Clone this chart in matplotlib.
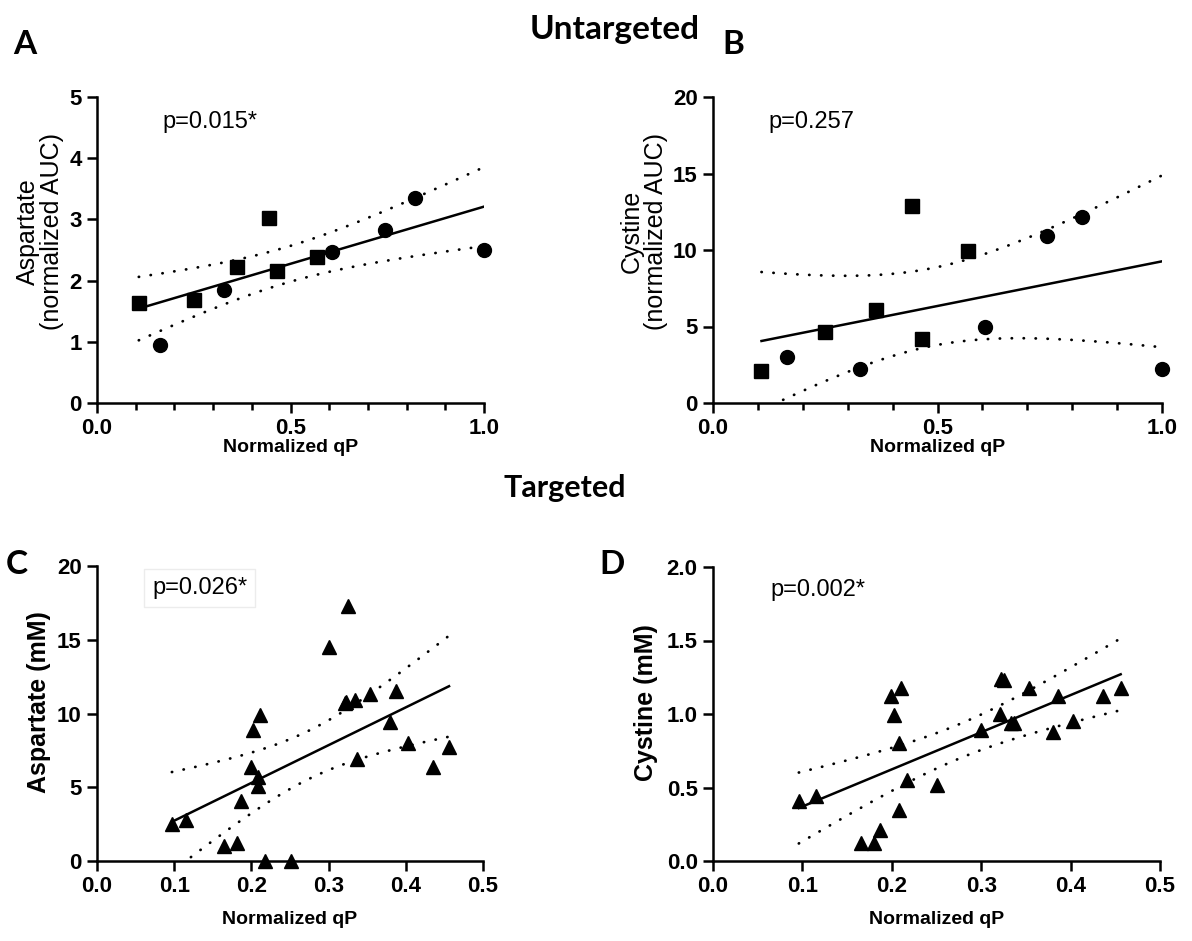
import numpy as np
import matplotlib
matplotlib.use('Agg')
import matplotlib.pyplot as plt
from matplotlib.ticker import MultipleLocator

# ---- untargeted (panels A, B): squares and circles share qP values
qp_sq = [0.108, 0.250, 0.363, 0.444, 0.465, 0.569]
qp_ci = [0.164, 0.328, 0.606, 0.743, 0.822, 1.000]
asp_sq = [1.63, 1.68, 2.23, 3.03, 2.16, 2.39]
asp_ci = [0.94, 1.84, 2.46, 2.83, 3.35, 2.50]
cys_sq = [2.07, 4.61, 6.09, 12.9, 4.17, 9.93]
cys_ci = [2.98, 2.22, 5.00, 10.91, 12.17, 2.24]

# ---- targeted (panels C, D)
qp_t = [0.097, 0.115, 0.164, 0.181, 0.187, 0.199, 0.202, 0.211, 0.209, 0.208,
        0.217, 0.251, 0.301, 0.325, 0.321, 0.323, 0.334, 0.337, 0.353, 0.380,
        0.387, 0.403, 0.435, 0.456]
asp_t = [2.5, 2.8, 1.05, 1.2, 4.1, 6.4, 8.9, 9.9, 5.7, 5.1,
         0.0, 0.0, 14.5, 17.3, 10.7, 10.8, 10.9, 6.9, 11.3, 9.4,
         11.5, 8.0, 6.4, 7.7]
qp_t2 = [0.096, 0.115, 0.165, 0.180, 0.187, 0.199, 0.202, 0.210, 0.208, 0.208,
         0.217, 0.250, 0.300, 0.321, 0.322, 0.325, 0.333, 0.337, 0.353, 0.386,
         0.380, 0.403, 0.436, 0.456]
cys_t = [0.41, 0.44, 0.12, 0.12, 0.21, 1.12, 0.99, 1.18, 0.80, 0.35,
         0.55, 0.52, 0.89, 1.00, 1.24, 1.23, 0.94, 0.94, 1.18, 1.12,
         0.88, 0.95, 1.12, 1.18]

p_texts = ['p=0.015*', 'p=0.257', 'p=0.026*', 'p=0.002*']

# two-sided 95% t values by degrees of freedom
T95 = {10: 2.228, 21: 2.080, 22: 2.074}

W, H = 1192, 941
fig = plt.figure(figsize=(W / 100, H / 100), dpi=100)

tick_font = dict(family=['Liberation Sans Narrow', 'Liberation Sans'], weight='bold', size=16)
lab_font = dict(family='Liberation Sans', size=18)
head_font = dict(family='Lato', weight='bold', size=24)


def make_ax(l, r, t, b):
    return fig.add_axes([l / W, 1 - b / H, (r - l) / W, (b - t) / H])


def fit_with_ci(ax, x, y):
    x = np.asarray(x, float)
    y = np.asarray(y, float)
    n = len(x)
    slope, icpt = np.polyfit(x, y, 1)
    resid = y - (slope * x + icpt)
    s = np.sqrt(np.sum(resid ** 2) / (n - 2))
    sxx = np.sum((x - x.mean()) ** 2)
    xs = np.linspace(x.min(), x.max(), 200)
    yh = slope * xs + icpt
    half = T95[n - 2] * s * np.sqrt(1 / n + (xs - x.mean()) ** 2 / sxx)
    ax.plot(xs, yh, color='black', lw=1.8, zorder=2)
    for yy in (yh + half, yh - half):
        ax.plot(xs, yy, color='black', lw=2.0, ls=(0, (0.1, 4.2)),
                dash_capstyle='round', zorder=2)


def style(ax, xmax, xmajor, ymax, ymajor, yfmt):
    ax.set_xlim(0, xmax)
    ax.set_ylim(0, ymax)
    ax.spines['top'].set_visible(False)
    ax.spines['right'].set_visible(False)
    for sp in ('left', 'bottom'):
        ax.spines[sp].set_linewidth(1.8)
    ax.xaxis.set_major_locator(MultipleLocator(xmajor))
    ax.xaxis.set_minor_locator(MultipleLocator(0.1))
    ax.yaxis.set_major_locator(MultipleLocator(ymajor))
    ax.tick_params(which='major', length=7, width=1.8, direction='out', pad=4)
    ax.tick_params(which='minor', length=5, width=1.8, direction='out')
    ax.tick_params(axis='y', which='minor', length=0)
    ax.set_xticks(ax.get_xticks())
    ax.set_xticklabels([f'{v:.1f}' for v in ax.get_xticks()], **tick_font)
    ax.set_yticks(ax.get_yticks())
    ax.set_yticklabels([yfmt.format(v) for v in ax.get_yticks()], **tick_font)
    ax.set_xlim(0, xmax)
    ax.set_ylim(0, ymax)
    ax.set_xlabel('Normalized qP', family='Liberation Sans', weight='bold', size=14)


# panel A
axA = make_ax(97, 484, 97, 403)
fit_with_ci(axA, qp_sq + qp_ci, asp_sq + asp_ci)
axA.plot(qp_sq, asp_sq, 's', color='black', ms=10.5, zorder=3, clip_on=False)
axA.plot(qp_ci, asp_ci, 'o', color='black', ms=10, zorder=3, clip_on=False)
style(axA, 1.0, 0.5, 5, 1, '{:.0f}')
axA.set_ylabel('Aspartate\n(normalized AUC)', linespacing=1.0, **lab_font)
axA.xaxis.labelpad = 0
axA.yaxis.set_label_coords(-0.085, 0.56)

# panel B
axB = make_ax(713, 1162, 97, 403)
fit_with_ci(axB, qp_sq + qp_ci, cys_sq + cys_ci)
axB.plot(qp_sq, cys_sq, 's', color='black', ms=10.5, zorder=3, clip_on=False)
axB.plot(qp_ci, cys_ci, 'o', color='black', ms=10, zorder=3, clip_on=False)
style(axB, 1.0, 0.5, 20, 5, '{:.0f}')
axB.set_ylabel('Cystine\n(normalized AUC)', linespacing=1.0, **lab_font)
axB.xaxis.labelpad = 0
axB.yaxis.set_label_coords(-0.1, 0.56)

# panel C
axC = make_ax(97, 483, 566, 861)
fit_with_ci(axC, qp_t, asp_t)
axC.plot(qp_t, asp_t, '^', color='black', ms=10.5, zorder=3, clip_on=False)
style(axC, 0.5, 0.1, 20, 5, '{:.0f}')
axC.set_ylabel('Aspartate (mM)', family='Liberation Sans', weight='bold', size=18)
axC.yaxis.set_label_coords(-0.12, 0.54)
axC.xaxis.labelpad = 10

# panel D
axD = make_ax(713, 1160, 567, 861)
fit_with_ci(axD, qp_t2, cys_t)
axD.plot(qp_t2, cys_t, '^', color='black', ms=10.5, zorder=3, clip_on=False)
style(axD, 0.5, 0.1, 2.0, 0.5, '{:.1f}')
axD.set_ylabel('Cystine (mM)', family='Liberation Sans', weight='bold', size=18)
axD.yaxis.set_label_coords(-0.123, 0.54)
axD.xaxis.labelpad = 10

# p values
p_font = dict(family='Liberation Sans', size=17, va='center', ha='left')
fig.text(162 / W, 1 - 122 / H, p_texts[0], **p_font)
fig.text(768 / W, 1 - 122 / H, p_texts[1], **p_font)
fig.text(152 / W, 1 - 588 / H, p_texts[2],
         bbox=dict(boxstyle='square,pad=0.35', fc='white', ec='#ececec', lw=1), **p_font)
fig.text(770 / W, 1 - 590 / H, p_texts[3], **p_font)

# headings and panel letters
fig.text(615 / W, 1 - 30 / H, 'Untargeted', ha='center', va='center', **head_font)
fig.text(565 / W, 1 - 488 / H, 'Targeted', ha='center', va='center',
         family='Lato', weight='bold', size=22)
for letter, px, py in (('A', 25, 45), ('B', 733, 45), ('C', 17, 565), ('D', 612, 565)):
    fig.text(px / W, 1 - py / H, letter, ha='center', va='center', **head_font)

fig.savefig('out.png', dpi=100)
